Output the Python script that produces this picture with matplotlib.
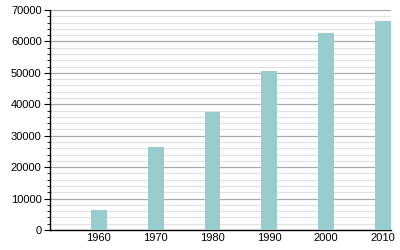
import matplotlib
matplotlib.use('Agg')
import matplotlib.pyplot as plt
from matplotlib.ticker import MultipleLocator

# dados
anos = [1960, 1970, 1980, 1990, 2000, 2010]
populacao = [6400, 26500, 37600, 50600, 62700, 66500]

plt.rcParams['font.family'] = ['Liberation Sans', 'DejaVu Sans']

fig = plt.figure(figsize=(4, 2.5), dpi=100)
ax = fig.add_axes([50 / 400, 20 / 250, 341 / 400, 220 / 250])

ax.bar(anos, populacao, width=2.8, color='#99cccc', zorder=3)

ax.set_xlim(1951.4, 2011.4)
ax.set_ylim(0, 70000)
ax.set_xticks(anos)
ax.yaxis.set_major_locator(MultipleLocator(10000))
ax.yaxis.set_minor_locator(MultipleLocator(2000))

ax.grid(axis='y', which='major', color='#aaaaaa', linewidth=0.9, zorder=0)
ax.grid(axis='y', which='minor', color='#e2e2e2', linewidth=0.9, zorder=0)

for lado in ['top', 'right']:
    ax.spines[lado].set_visible(False)
ax.spines['left'].set_linewidth(1.0)
ax.spines['bottom'].set_linewidth(1.0)

ax.tick_params(axis='x', length=0, labelsize=8, pad=2.5)
ax.tick_params(axis='y', which='major', length=4, labelsize=8, pad=2)
ax.tick_params(axis='y', which='minor', length=2)

fig.savefig('out.png', dpi=100)
